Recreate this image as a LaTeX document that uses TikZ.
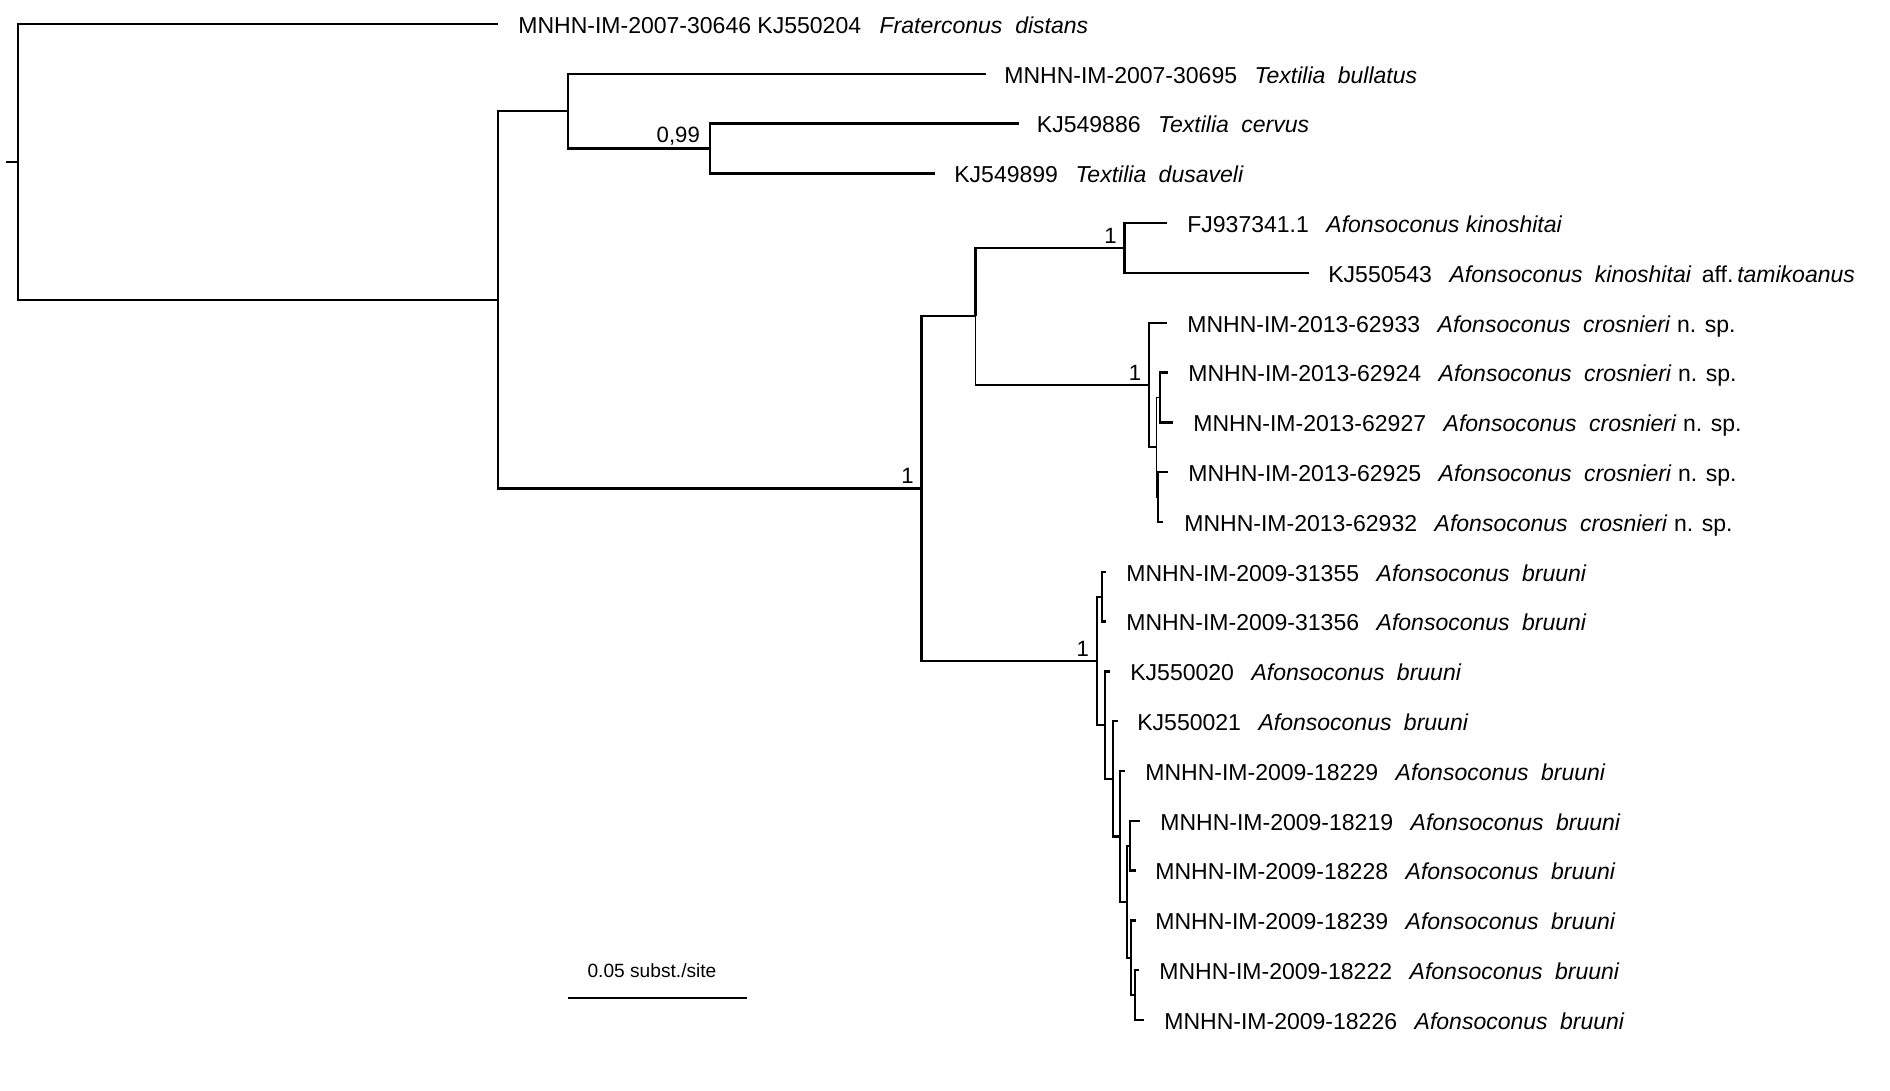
\documentclass[tikz,border=0pt]{standalone}
\usepackage{fontspec}
\setmainfont{Liberation Sans}
\usetikzlibrary{calc}
\tikzset{
  branch/.style={line width=1.3pt},
  thinbranch/.style={line width=1pt},
  stem/.style={line width=1.6pt},
  taxon/.style={
    anchor=west, inner sep=0pt,
    text height=9.4pt, text depth=0pt,
    font=\fontsize{13.1}{15}\selectfont
  },
  support/.style={
    anchor=base east, inner sep=0pt,
    xshift=-4.2pt, yshift=2.6pt,
    font=\fontsize{12.6}{14}\selectfont
  },
  scalelbl/.style={anchor=base, inner sep=0pt, font=\fontsize{10.9}{12}\selectfont},
}
% accession, genus, species
\newcommand{\acc}[3]{#1\hspace{0.76em}\textit{#2}\hspace{0.54em}\textit{#3}}

\begin{document}
\begin{tikzpicture}[x=0.02cm, y=-0.02cm]
  \useasboundingbox (0,0) rectangle (1890,1091);

  % ── Internal nodes ───────────────────────────────────────────────────────────
  \coordinate (stub) at (6,161.7);
  \coordinate (root) at (18,161.7);
  \coordinate (nA) at (498,299.8);
  \coordinate (nT) at (568,111);
  \coordinate (nU) at (710,148.5);
  \coordinate (nB) at (921.5,488.3);
  \coordinate (nC) at (975.5,316);
  \coordinate (nD) at (1124.5,248.1);
  \coordinate (nE) at (1149,385.1);
  \coordinate (nF) at (1156.5,447.3);
  \coordinate (nG) at (1160,397.5);
  \coordinate (nH) at (1158.3,497.1);
  \coordinate (nI) at (1096.7,660.9);
  \coordinate (nJ) at (1101.7,596.7);
  \coordinate (nK) at (1105,725.1);
  \coordinate (nL) at (1112.7,778.8);
  \coordinate (nM) at (1120,836.4);
  \coordinate (nN) at (1126.7,901.7);
  \coordinate (nO) at (1130,845.7);
  \coordinate (nP) at (1131,957.8);
  \coordinate (nQ) at (1135,995.1);

  % ── Tips ─────────────────────────────────────────────────────────────────────
  \coordinate (t0) at (498,24);
  \coordinate (t1) at (986,73.8);
  \coordinate (t2) at (1018.6,123.6);
  \coordinate (t3) at (935,173.4);
  \coordinate (t4) at (1167,223.2);
  \coordinate (t5) at (1309,273);
  \coordinate (t6) at (1167,322.8);
  \coordinate (t7) at (1168.3,372.6);
  \coordinate (t8) at (1173.3,422.4);
  \coordinate (t9) at (1168.3,472.2);
  \coordinate (t10) at (1162.7,522);
  \coordinate (t11) at (1106,571.8);
  \coordinate (t12) at (1106,621.6);
  \coordinate (t13) at (1110,671.4);
  \coordinate (t14) at (1118,721.2);
  \coordinate (t15) at (1125,771);
  \coordinate (t16) at (1140,820.8);
  \coordinate (t17) at (1136,870.6);
  \coordinate (t18) at (1136,920.4);
  \coordinate (t19) at (1139,970.2);
  \coordinate (t20) at (1144,1020);

  % ── Labels ───────────────────────────────────────────────────────────────────
  \node[taxon] (l0) at (518,25)
    {MNHN-IM-2007-30646 KJ550204\hspace{0.8em}\textit{Fraterconus}\hspace{0.56em}\textit{distans}};
  \node[taxon] (l1) at (1004,74.8) {\acc{MNHN-IM-2007-30695}{Textilia}{bullatus}};
  \node[taxon] (l2) at (1036.6,124.6) {\acc{KJ549886}{Textilia}{cervus}};
  \node[taxon] (l3) at (954,174.4) {\acc{KJ549899}{Textilia}{dusaveli}};
  \node[taxon] (l4) at (1187,224.2) {FJ937341.1\hspace{0.76em}\textit{Afonsoconus kinoshitai}};
  \node[taxon] (l5) at (1328,274)
    {\acc{KJ550543}{Afonsoconus}{kinoshitai}\hspace{0.45em}aff.\,\textit{tamikoanus}};
  \node[taxon] (l6) at (1187,323.8) {\acc{MNHN-IM-2013-62933}{Afonsoconus}{crosnieri} n. sp.};
  \node[taxon] (l7) at (1188,373.6) {\acc{MNHN-IM-2013-62924}{Afonsoconus}{crosnieri} n. sp.};
  \node[taxon] (l8) at (1193,423.4) {\acc{MNHN-IM-2013-62927}{Afonsoconus}{crosnieri} n. sp.};
  \node[taxon] (l9) at (1188,473.2) {\acc{MNHN-IM-2013-62925}{Afonsoconus}{crosnieri} n. sp.};
  \node[taxon] (l10) at (1184,523) {\acc{MNHN-IM-2013-62932}{Afonsoconus}{crosnieri} n. sp.};
  \node[taxon] (l11) at (1126,572.8) {\acc{MNHN-IM-2009-31355}{Afonsoconus}{bruuni}};
  \node[taxon] (l12) at (1126,622.6) {\acc{MNHN-IM-2009-31356}{Afonsoconus}{bruuni}};
  \node[taxon] (l13) at (1130,672.4) {\acc{KJ550020}{Afonsoconus}{bruuni}};
  \node[taxon] (l14) at (1137,722.2) {\acc{KJ550021}{Afonsoconus}{bruuni}};
  \node[taxon] (l15) at (1145,772) {\acc{MNHN-IM-2009-18229}{Afonsoconus}{bruuni}};
  \node[taxon] (l16) at (1160,821.8) {\acc{MNHN-IM-2009-18219}{Afonsoconus}{bruuni}};
  \node[taxon] (l17) at (1155,871.6) {\acc{MNHN-IM-2009-18228}{Afonsoconus}{bruuni}};
  \node[taxon] (l18) at (1155,921.4) {\acc{MNHN-IM-2009-18239}{Afonsoconus}{bruuni}};
  \node[taxon] (l19) at (1159,971.2) {\acc{MNHN-IM-2009-18222}{Afonsoconus}{bruuni}};
  \node[taxon] (l20) at (1164,1021) {\acc{MNHN-IM-2009-18226}{Afonsoconus}{bruuni}};

  % ── Branches ─────────────────────────────────────────────────────────────────
  \draw[branch] (stub) -- (root);
  \draw[branch] (root) |- (t0);
  \draw[branch] (root) |- (nA);
  \draw[branch] (nA) |- (nT);
  \draw[stem]   (nA) |- (nB);

  % Textilia
  \draw[branch] (nT) |- (t1);
  \draw[branch] (nT) |- (nU);
  \draw[branch] (nU) |- (t2);
  \draw[branch] (nU) |- (t3);

  % kinoshitai + crosnieri
  \draw[branch] (nB) |- (nC);
  \draw[branch] (nC) |- (nD);
  \draw[branch] (nD) |- (t4);
  \draw[branch] (nD) |- (t5);
  \draw[thinbranch] (nC) |- (nE);
  \draw[thinbranch] (nE) |- (t6);
  \draw[thinbranch] (nE) |- (nF);
  \draw[thinbranch] (nF) |- (nG);
  \draw[thinbranch] (nF) |- (nH);
  \draw[branch] (nG) |- (t7);
  \draw[branch] (nG) |- (t8);
  \draw[thinbranch] (nH) |- (t9);
  \draw[thinbranch] (nH) |- (t10);

  % bruuni
  \draw[branch] (nB) |- (nI);
  \draw[branch] (nI) |- (nJ);
  \draw[branch] (nI) |- (nK);
  \draw[branch] (nJ) |- (t11);
  \draw[branch] (nJ) |- (t12);
  \draw[branch] (nK) |- (t13);
  \draw[branch] (nK) |- (nL);
  \draw[branch] (nL) |- (t14);
  \draw[branch] (nL) |- (nM);
  \draw[branch] (nM) |- (t15);
  \draw[branch] (nM) |- (nN);
  \draw[branch] (nN) |- (nO);
  \draw[branch] (nN) |- (nP);
  \draw[branch] (nO) |- (t16);
  \draw[branch] (nO) |- (t17);
  \draw[branch] (nP) |- (t18);
  \draw[branch] (nP) |- (nQ);
  \draw[branch] (nQ) |- (t19);
  \draw[branch] (nQ) |- (t20);

  % ── Support values ───────────────────────────────────────────────────────────
  \node[support, xshift=-1.4pt, yshift=1pt] (pU) at (nU) {0,99};
  \node[support] (pB) at (nB) {1};
  \node[support] (pD) at (nD) {1};
  \node[support] (pE) at (nE) {1};
  \node[support] (pI) at (nI) {1};

  % ── Scale bar ────────────────────────────────────────────────────────────────
  \coordinate (bar0) at (568,997.7);
  \coordinate (bar1) at (747,997.7);
  \draw[branch] (bar0) -- (bar1);
  \node[scalelbl] (barlbl) at (652,977) {0.05 subst./site};

\end{tikzpicture}
\end{document}
